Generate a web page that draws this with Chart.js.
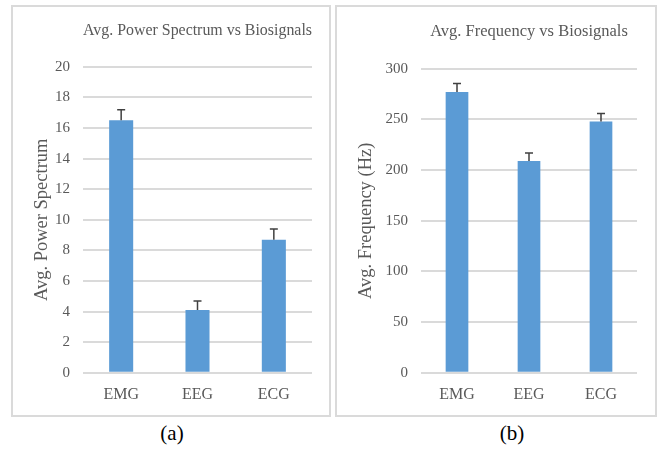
<!DOCTYPE html>
<html>
<head>
<meta charset="utf-8">
<script src="https://cdn.jsdelivr.net/npm/chart.js@4.4.1/dist/chart.umd.min.js"></script>
<style>
  body { margin: 0; background: #fff; width: 659px; height: 450px; position: relative; overflow: hidden; }
  .panel { position: absolute; box-sizing: border-box; border: 2px solid #dadada; }
  .caption { position: absolute; top: 421px; width: 60px; text-align: center; font: 21px "Liberation Serif", serif; color: #000; }
</style>
</head>
<body>
<div class="panel" style="left:11px; top:5px; width:320px; height:412px;">
  <canvas id="powerChart" width="316" height="408"></canvas>
</div>
<div class="panel" style="left:335px; top:5px; width:322px; height:412px;">
  <canvas id="freqChart" width="318" height="408"></canvas>
</div>
<div class="caption" style="left:142px;">(a)</div>
<div class="caption" style="left:482px;">(b)</div>
<script>
const categories = ['EMG', 'EEG', 'ECG'];
const powerValues = [16.5, 4.1, 8.7];
const powerErrors = [0.7, 0.6, 0.7];
const freqValues = [277, 209, 248];
const freqErrors = [8.5, 8, 8];

const textColor = '#595959';
const serif = '"Liberation Serif", "Times New Roman", serif';

// draws the positive error bar on top of each bar
const errorBars = {
    id: 'errorBars',
    afterDatasetsDraw(chart) {
        const ctx = chart.ctx;
        const y = chart.scales.y;
        const errs = chart.data.datasets[0].errors;
        const meta = chart.getDatasetMeta(0);
        ctx.save();
        ctx.strokeStyle = '#404040';
        ctx.lineWidth = 1.5;
        meta.data.forEach((bar, i) => {
            const top = y.getPixelForValue(chart.data.datasets[0].data[i] + errs[i]);
            ctx.beginPath();
            ctx.moveTo(bar.x, bar.y);
            ctx.lineTo(bar.x, top);
            ctx.moveTo(bar.x - 4, top);
            ctx.lineTo(bar.x + 4, top);
            ctx.stroke();
        });
        ctx.restore();
    }
};

function makeChart(id, title, yTitle, values, errors, yMax, step, opts) {
    const ctx = document.getElementById(id).getContext('2d');
    return new Chart(ctx, {
        type: 'bar',
        data: {
            labels: categories,
            datasets: [{
                data: values,
                errors: errors,
                backgroundColor: '#5b9bd5',
                borderWidth: 0,
                categoryPercentage: 1,
                barPercentage: 0.315
            }]
        },
        options: {
            responsive: false,
            animation: false,
            layout: { padding: { left: 0, right: opts.right, top: 0, bottom: 7 } },
            plugins: {
                legend: { display: false },
                tooltip: { enabled: false },
                title: {
                    display: true,
                    text: title,
                    fullSize: false,
                    color: textColor,
                    font: { family: serif, size: 16.5, weight: 'normal' },
                    padding: { top: opts.titleTop, bottom: opts.titleBottom }
                }
            },
            scales: {
                x: {
                    grid: { display: false },
                    border: { display: false },
                    ticks: { color: textColor, padding: 4, font: { family: serif, size: 16 } }
                },
                y: {
                    min: 0,
                    max: yMax,
                    afterFit: (s) => { s.width = opts.left; },
                    grid: { color: '#dadada', lineWidth: 2, drawTicks: false },
                    border: { display: false },
                    ticks: { stepSize: step, color: textColor, padding: 13, font: { family: serif, size: 15 } },
                    title: {
                        display: true,
                        text: yTitle,
                        color: textColor,
                        font: { family: serif, size: 18.5 },
                        padding: { top: 18, bottom: 0 }
                    }
                }
            }
        },
        plugins: [errorBars]
    });
}

makeChart('powerChart', 'Avg. Power Spectrum vs Biosignals', 'Avg. Power Spectrum',
    powerValues, powerErrors, 20, 2, { left: 70, right: 17, titleTop: 14, titleBottom: 26 });
makeChart('freqChart', 'Avg. Frequency vs Biosignals', 'Avg. Frequency (Hz)',
    freqValues, freqErrors, 300, 50, { left: 84, right: 18, titleTop: 15, titleBottom: 27 });
</script>
</body>
</html>
